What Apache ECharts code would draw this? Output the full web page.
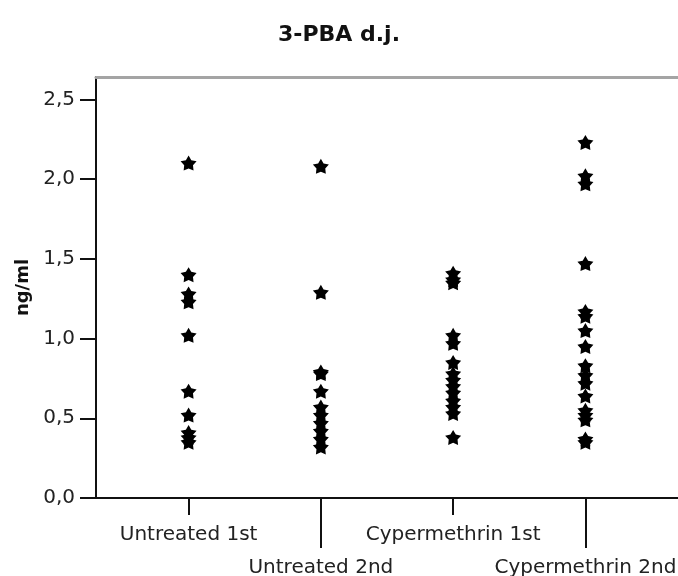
<!DOCTYPE html>
<html>
<head>
<meta charset="utf-8">
<title>3-PBA d.j.</title>
<script src="https://cdn.jsdelivr.net/npm/echarts@6/dist/echarts.min.js"></script>
<style>
  html, body { margin: 0; padding: 0; background: #fff; }
  #chart { width: 678px; height: 576px; }
</style>
</head>
<body>
<div id="chart"></div>
<script>
// group names on the x axis
var categories = ['Untreated 1st', 'Untreated 2nd', 'Cypermethrin 1st', 'Cypermethrin 2nd'];

// ng/ml per group
var untreated1 = [2.10, 1.40, 1.28, 1.23, 1.02, 0.67, 0.52, 0.41, 0.38, 0.35];
var untreated2 = [2.08, 1.29, 0.79, 0.78, 0.67, 0.57, 0.52, 0.47, 0.42, 0.37, 0.32];
var cyper1 = [1.41, 1.37, 1.35, 1.02, 0.97, 0.85, 0.78, 0.74, 0.70, 0.66, 0.61, 0.57, 0.53, 0.38];
var cyper2 = [2.23, 2.02, 1.97, 1.47, 1.17, 1.14, 1.05, 0.95, 0.83, 0.77, 0.72, 0.64, 0.55, 0.52, 0.49, 0.37, 0.35];

var yTicks = [0, 0.5, 1.0, 1.5, 2.0, 2.5];

var groups = [untreated1, untreated2, cyper1, cyper2];
var points = [];
groups.forEach(function (vals, i) {
  vals.forEach(function (v) {
    points.push([i + 1, v]);
  });
});

// fat 5-point star, inner radius ~0.55
var STAR = 'path://M10 0 L13.23 5.55 L19.51 6.91 L15.23 11.7 L15.88 18.09 L10 15.5 L4.12 18.09 L4.77 11.7 L0.49 6.91 L6.77 5.55 Z';
var FONT = 'DejaVu Sans';

function catLabel(v) {
  return categories[Math.round(v) - 1];
}

var chart = echarts.init(document.getElementById('chart'));
chart.setOption({
  animation: false,
  backgroundColor: '#fff',
  title: {
    text: '3-PBA d.j.',
    left: 'center',
    top: 19,
    textStyle: {
      fontFamily: FONT,
      fontSize: 22,
      fontWeight: 'bold',
      color: '#111'
    }
  },
  grid: {
    left: 96,
    right: 0,
    top: 77,
    bottom: 78,
    outerBoundsMode: 'none'
  },
  xAxis: [
    {
      // main bottom axis, short ticks + first row labels
      type: 'value',
      position: 'bottom',
      min: 0.3,
      max: 4.7,
      splitLine: { show: false },
      axisLine: { lineStyle: { color: '#111', width: 2 } },
      axisTick: {
        customValues: [1, 3],
        length: 17,
        lineStyle: { color: '#111', width: 2 }
      },
      axisLabel: {
        customValues: [1, 3],
        margin: 20,
        hideOverlap: false,
        fontFamily: FONT,
        fontSize: 20,
        lineHeight: 33,
        color: '#222',
        formatter: catLabel
      }
    },
    {
      // grey top frame line
      type: 'value',
      position: 'top',
      min: 0.3,
      max: 4.7,
      splitLine: { show: false },
      axisLine: { lineStyle: { color: '#a4a4a4', width: 3 } },
      axisTick: { show: false },
      axisLabel: { show: false }
    },
    {
      // long ticks + second row labels
      type: 'value',
      position: 'bottom',
      min: 0.3,
      max: 4.7,
      splitLine: { show: false },
      axisLine: { show: false },
      axisTick: {
        customValues: [2, 4],
        length: 50,
        lineStyle: { color: '#111', width: 2 }
      },
      axisLabel: {
        customValues: [2, 4],
        margin: 53,
        hideOverlap: false,
        fontFamily: FONT,
        fontSize: 20,
        lineHeight: 33,
        color: '#222',
        formatter: catLabel
      }
    }
  ],
  yAxis: {
    type: 'value',
    min: 0,
    max: 2.64,
    interval: 0.5,
    name: 'ng/ml',
    nameLocation: 'middle',
    nameGap: 64,
    nameTextStyle: {
      fontFamily: FONT,
      fontSize: 18,
      fontWeight: 'bold',
      color: '#111'
    },
    splitLine: { show: false },
    axisLine: { lineStyle: { color: '#111', width: 2 } },
    axisTick: {
      customValues: yTicks,
      length: 16,
      lineStyle: { color: '#111', width: 2 }
    },
    axisLabel: {
      customValues: yTicks,
      margin: 21,
      fontFamily: FONT,
      fontSize: 20,
      color: '#222',
      formatter: function (v) {
        return v.toFixed(1).replace('.', ',');
      }
    }
  },
  series: [
    {
      type: 'scatter',
      xAxisIndex: 0,
      data: points,
      symbol: STAR,
      symbolSize: [16, 15],
      itemStyle: { color: '#000', opacity: 1 }
    }
  ]
});
</script>
</body>
</html>
